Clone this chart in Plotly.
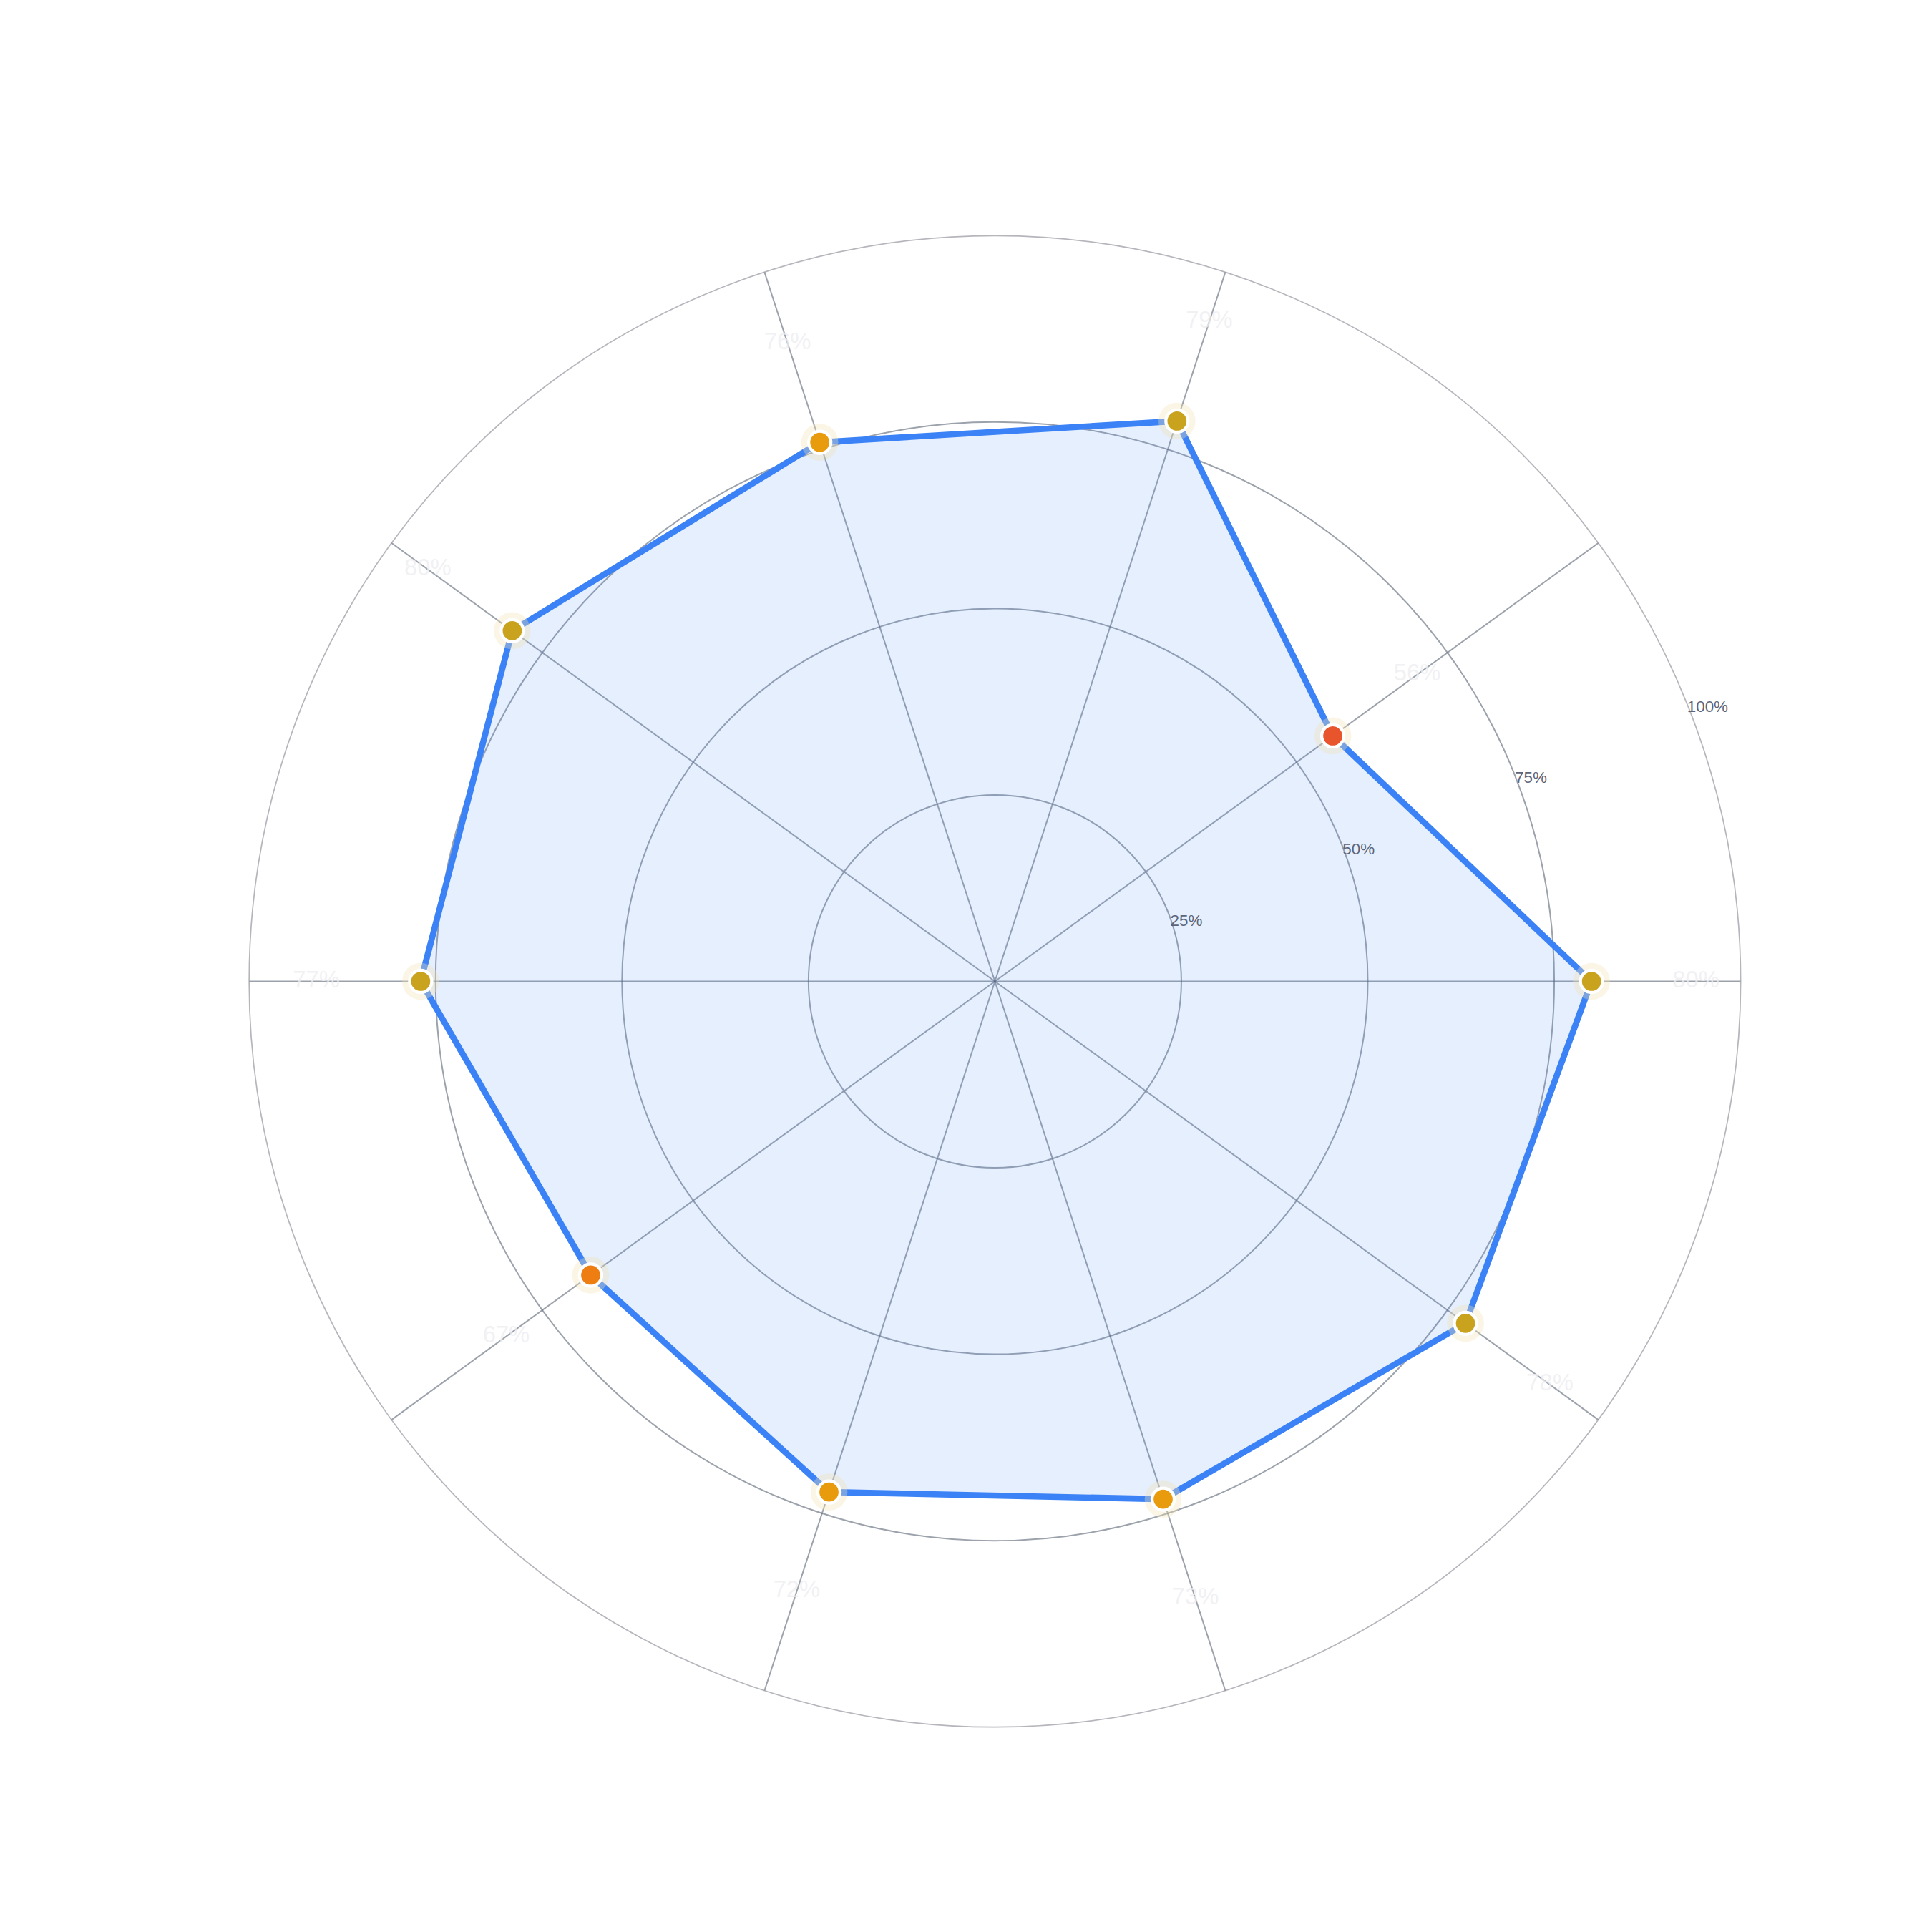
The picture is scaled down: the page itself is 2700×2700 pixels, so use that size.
import plotly.graph_objects as go

categories = ["Italian Restaurant", "Thai Restaurant", "Mexican Restaurant", "Pizza Restaurant", "Bar",
              "Brunch Restaurant", "Barbecue Restaurant", "Coffee Shop", "Hair Salon", "Gym"]
values = [80, 56, 79, 76, 80, 77, 67, 72, 73, 78]


def marker_color(v):
    if v < 60:
        return "#E8542C"
    if v < 70:
        return "#EE7D12"
    if v < 77:
        return "#E89B0C"
    return "#C9A21E"


colors = [marker_color(v) for v in values]
labels = [f"{v}%" for v in values]

S = 2700 / 1568

fig = go.Figure()
fig.add_trace(go.Scatterpolar(
    r=values + values[:1], theta=categories + categories[:1],
    mode="lines", fill="toself", fillcolor="rgba(59,130,246,0.13)",
    line=dict(color="#3B82F6", width=5 * S), hoverinfo="skip", showlegend=False))
# faint halo behind markers
fig.add_trace(go.Scatterpolar(
    r=values, theta=categories, mode="markers",
    marker=dict(size=30 * S, color="rgba(240,225,180,0.35)"), hoverinfo="skip", showlegend=False))
fig.add_trace(go.Scatterpolar(
    r=values, theta=categories, mode="markers",
    marker=dict(size=18 * S, color=colors, line=dict(color="white", width=2.5 * S)),
    showlegend=False))
fig.add_trace(go.Scatterpolar(
    r=[v + 14 for v in values], theta=categories, mode="text", text=labels, cliponaxis=False,
    textfont=dict(size=19 * S, color="rgba(238,238,242,0.8)"), hoverinfo="skip", showlegend=False))
# category labels centred on the spoke ends
fig.add_trace(go.Scatterpolar(
    r=[106] * len(categories), theta=categories, mode="text", text=categories, cliponaxis=False,
    textposition="middle center",
    textfont=dict(size=20 * S, color="#5B6B85"), hoverinfo="skip", showlegend=False))

fig.update_layout(
    width=2700, height=2700, paper_bgcolor="white", margin=dict(l=0, r=0, t=0, b=0),
    font=dict(family="Liberation Sans, Arial, sans-serif"),
    polar=dict(
        domain=dict(x=[0.126, 0.898], y=[0.109, 0.881]),
        bgcolor="white",
        radialaxis=dict(range=[0, 100], tickvals=[25, 50, 75, 100], ticktext=["25%", "50%", "75%", "100%"],
                        angle=22.5, tickangle=22.5, showline=False, ticks="",
                        tickfont=dict(size=13 * S, color="#5B6478"),
                        gridcolor="rgba(90,100,115,0.6)", gridwidth=1.2 * S),
        angularaxis=dict(rotation=0, direction="counterclockwise", showline=True,
                         linecolor="rgba(150,150,160,0.7)", linewidth=1 * S, ticks="",
                         showticklabels=False,
                         gridcolor="rgba(90,100,115,0.6)", gridwidth=1 * S),
    ),
)

fig.write_html("out.html")
